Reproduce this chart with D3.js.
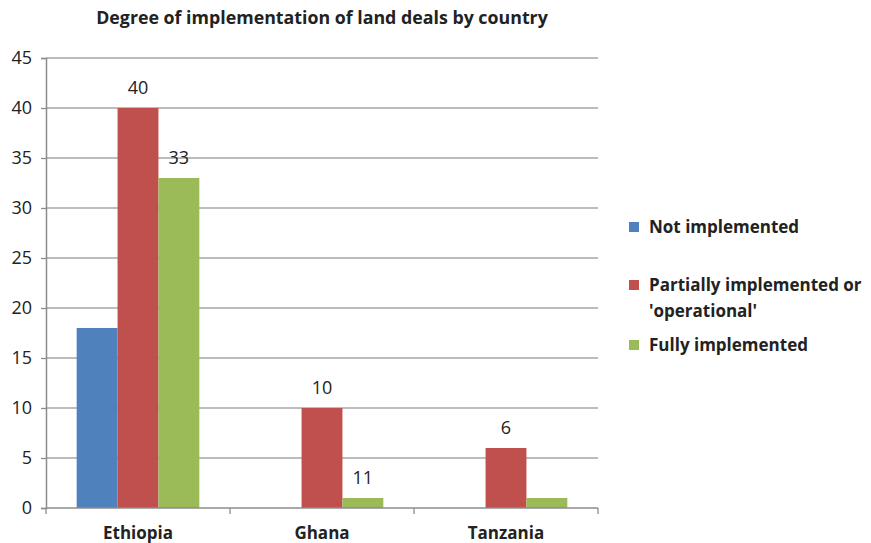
<!DOCTYPE html>
<html>
<head>
<meta charset="utf-8">
<script src="https://cdn.jsdelivr.net/npm/d3@7"></script>
<style>
  body { margin: 0; background: #fff; }
  svg { display: block; font-family: "Open Sans", "Noto Sans", sans-serif; }
</style>
</head>
<body>
<svg id="chart" width="871" height="543"></svg>
<script>
// dados
var countries = ["Ethiopia", "Ghana", "Tanzania"];
var seriesNames = ["Not implemented", "Partially implemented or 'operational'", "Fully implemented"];
var notImplemented = [18, 0, 0];
var partiallyImplemented = [40, 10, 6];
var fullyImplemented = [33, 1, 1];
// rotulos como aparecem no grafico original
var notImplementedLabels = [null, null, null];
var partiallyLabels = ["40", "10", "6"];
var fullyLabels = ["33", "11", null];
var yTicks = [0, 5, 10, 15, 20, 25, 30, 35, 40, 45];
var colors = ["#4F81BD", "#C0504D", "#9BBB59"];

var allValues = [notImplemented, partiallyImplemented, fullyImplemented];
var allLabels = [notImplementedLabels, partiallyLabels, fullyLabels];

var svg = d3.select("#chart");
var plotLeft = 46, plotRight = 598, plotTop = 58, plotBottom = 508;

var y = d3.scaleLinear().domain([0, 45]).range([plotBottom, plotTop]);
var x0 = d3.scaleBand().domain(countries).range([plotLeft, plotRight]).padding(0);
var bw = x0.bandwidth();
var gap = bw * 1.5 / 4.5 / 2;
var x1 = d3.scaleBand().domain([0, 1, 2]).range([gap, bw - gap]).padding(0);

// titulo
svg.append("text")
  .attr("x", 322).attr("y", 24)
  .attr("text-anchor", "middle")
  .attr("font-weight", "bold")
  .attr("font-size", 17.8)
  .attr("fill", "#222")
  .text("Degree of implementation of land deals by country");

// grade
svg.append("g")
  .selectAll("line")
  .data(yTicks.filter(function(d) { return d > 0; }))
  .enter().append("line")
  .attr("x1", plotLeft).attr("x2", plotRight)
  .attr("y1", function(d) { return y(d); })
  .attr("y2", function(d) { return y(d); })
  .attr("stroke", "#A6A6A6")
  .attr("stroke-width", 1.3);

// eixo y
var yAxis = svg.append("g")
  .attr("transform", "translate(" + plotLeft + ",0)")
  .call(d3.axisLeft(y).tickValues(yTicks).tickSize(5).tickPadding(9));
yAxis.select(".domain").attr("stroke", "#8C8C8C").attr("stroke-width", 1.5);
yAxis.selectAll(".tick line").attr("stroke", "#8C8C8C").attr("stroke-width", 1.3);
yAxis.selectAll(".tick text")
  .attr("font-size", 18).attr("fill", "#222")
  .attr("font-family", "'Open Sans', sans-serif");

// barras
var groups = svg.append("g")
  .selectAll("g")
  .data(countries)
  .enter().append("g")
  .attr("transform", function(d) { return "translate(" + x0(d) + ",0)"; });

groups.selectAll("rect")
  .data(function(d, i) { return allValues.map(function(s, k) { return { k: k, v: s[i] }; }); })
  .enter().append("rect")
  .attr("x", function(d) { return x1(d.k); })
  .attr("width", x1.bandwidth())
  .attr("y", function(d) { return y(d.v); })
  .attr("height", function(d) { return plotBottom - y(d.v); })
  .attr("fill", function(d) { return colors[d.k]; });

groups.selectAll("text")
  .data(function(d, i) { return allValues.map(function(s, k) { return { k: k, v: s[i], t: allLabels[k][i] }; }).filter(function(d) { return d.t; }); })
  .enter().append("text")
  .attr("x", function(d) { return x1(d.k) + x1.bandwidth() / 2; })
  .attr("y", function(d) { return y(d.v) - 14; })
  .attr("text-anchor", "middle")
  .attr("font-size", 18)
  .attr("fill", "#222")
  .text(function(d) { return d.t; });

// eixo x
var xAxis = svg.append("g")
  .attr("transform", "translate(0," + plotBottom + ")");
xAxis.append("line")
  .attr("x1", plotLeft).attr("x2", plotRight)
  .attr("stroke", "#8C8C8C").attr("stroke-width", 1.5);
xAxis.selectAll("line.tk")
  .data(d3.range(countries.length + 1))
  .enter().append("line")
  .attr("class", "tk")
  .attr("x1", function(d) { return plotLeft + d * bw; })
  .attr("x2", function(d) { return plotLeft + d * bw; })
  .attr("y1", 0).attr("y2", 6)
  .attr("stroke", "#8C8C8C").attr("stroke-width", 1.3);
xAxis.selectAll("text")
  .data(countries)
  .enter().append("text")
  .attr("x", function(d) { return x0(d) + bw / 2; })
  .attr("y", 31)
  .attr("text-anchor", "middle")
  .attr("font-weight", "bold")
  .attr("font-size", 17)
  .attr("fill", "#222")
  .text(function(d) { return d; });

// legenda
var legendRows = [
  { lines: ["Not implemented"], y: 227 },
  { lines: ["Partially implemented or", "'operational'"], y: 285 },
  { lines: ["Fully implemented"], y: 345 }
];
var legend = svg.append("g");
legendRows.forEach(function(r, i) {
  legend.append("rect")
    .attr("x", 629).attr("y", r.y - 5)
    .attr("width", 10).attr("height", 10)
    .attr("fill", colors[i]);
  var t = legend.append("text")
    .attr("x", 649).attr("y", r.y + 6)
    .attr("font-weight", "bold")
    .attr("font-size", 17)
    .attr("fill", "#222");
  r.lines.forEach(function(l, j) {
    t.append("tspan").attr("x", 649).attr("dy", j === 0 ? 0 : 26).text(l);
  });
});
</script>
</body>
</html>
